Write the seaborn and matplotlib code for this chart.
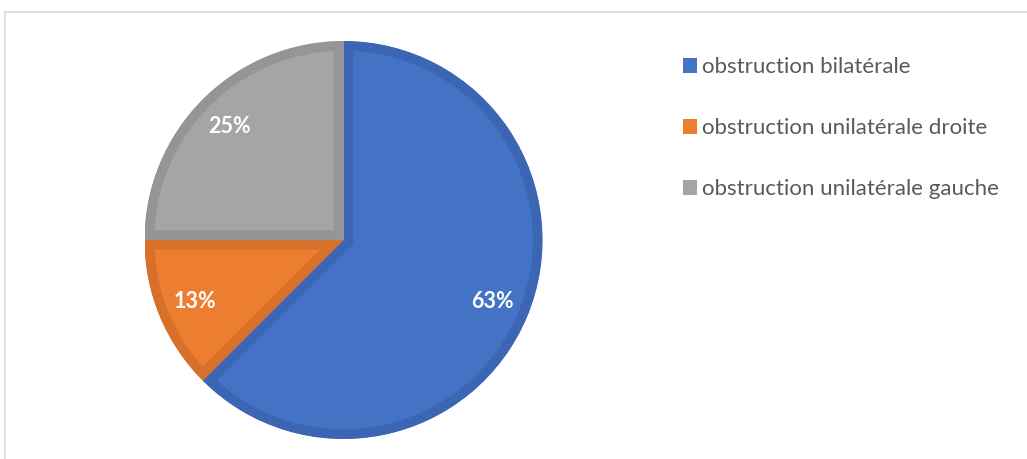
import math
import matplotlib
matplotlib.use("Agg")
import matplotlib.pyplot as plt
from matplotlib.patches import Patch
from matplotlib.lines import Line2D
import seaborn as sns

categories = ["obstruction bilatérale", "obstruction unilatérale droite", "obstruction unilatérale gauche"]
shares = [62.5, 12.5, 25.0]
fill_colors = ["#4472C4", "#ED7D31", "#A5A5A5"]
edge_colors = ["#3C65B4", "#D6702B", "#959595"]

sns.set_theme(style="white")
plt.rcParams["font.family"] = ["Lato", "DejaVu Sans"]

W, H = 1027, 459
fig = plt.figure(figsize=(W / 100, H / 100), dpi=100)
fig.patch.set_facecolor("white")

cx, cy, r = 343.5, 240, 199
ax = fig.add_axes([(cx - r) / W, (H - cy - r) / H, 2 * r / W, 2 * r / H])

wedges, texts, autotexts = ax.pie(
    shares,
    colors=fill_colors,
    startangle=90,
    counterclock=False,
    radius=1,
    autopct=lambda p: f"{math.floor(p + 0.5 + 1e-9)}%",
    pctdistance=0.81,
    textprops=dict(color="white", fontsize=15.5, fontweight="bold"),
)
for w, ec in zip(wedges, edge_colors):
    w.set_edgecolor(ec)
    w.set_linewidth(14)
    w.set_clip_path(w)
    w.set_clip_on(True)
ax.set_xlim(-1, 1)
ax.set_ylim(-1, 1)
ax.axis("off")

handles = [Patch(facecolor=c, edgecolor="none") for c in fill_colors]
leg = fig.legend(
    handles, categories,
    loc="upper left",
    bbox_to_anchor=(683 / W, 1 - 57 / H),
    frameon=False,
    fontsize=16,
    handlelength=0.64, handleheight=0.64, handletextpad=0.22,
    labelspacing=1.85,
    borderaxespad=0, borderpad=0,
)
for t in leg.get_texts():
    t.set_color("#595959")

# outer chart frame (light gray), top and left edges visible
fig.add_artist(Line2D([4.5 / W, 1.0], [1 - 11.5 / H, 1 - 11.5 / H], transform=fig.transFigure, color="#D9D9D9", lw=1.2))
fig.add_artist(Line2D([4.5 / W, 4.5 / W], [0.0, 1 - 11.5 / H], transform=fig.transFigure, color="#D9D9D9", lw=1.2))

fig.savefig("out.png", dpi=100, facecolor="white")
